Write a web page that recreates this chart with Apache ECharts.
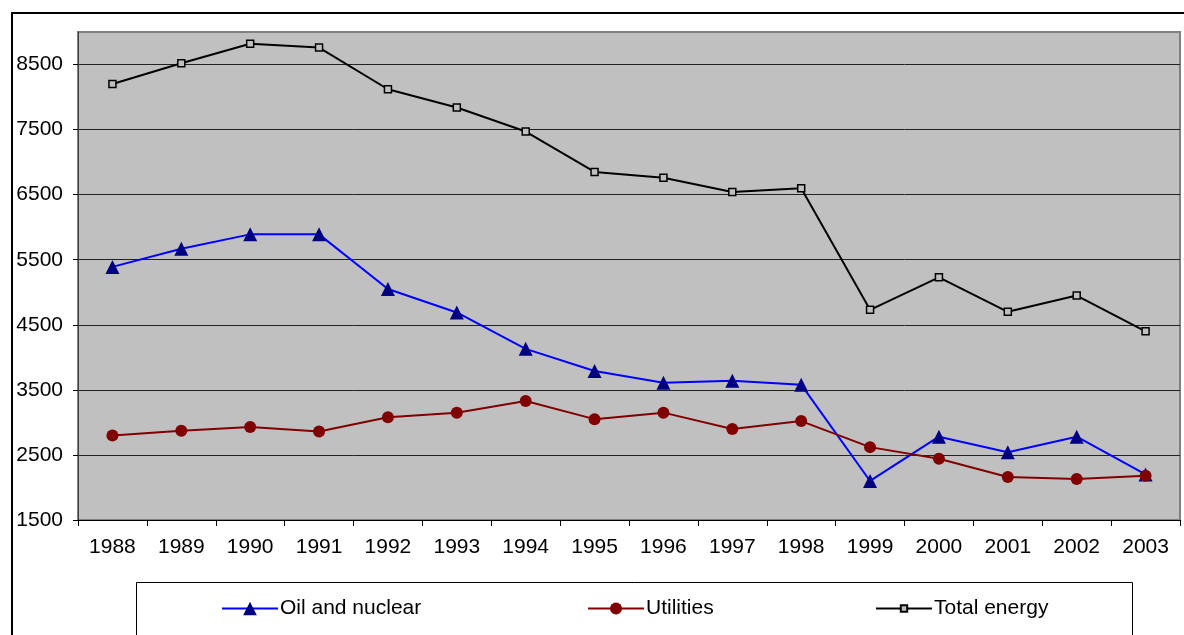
<!DOCTYPE html>
<html>
<head>
<meta charset="utf-8">
<script src="https://cdn.jsdelivr.net/npm/echarts@6/dist/echarts.min.js"></script>
<style>
  html, body { margin: 0; padding: 0; background: #fff; }
  #chart { width: 1184px; height: 635px; }
</style>
</head>
<body>
<div id="chart"></div>
<script>
const years = ['1988', '1989', '1990', '1991', '1992', '1993', '1994', '1995',
  '1996', '1997', '1998', '1999', '2000', '2001', '2002', '2003']
const oilNuclear = [5390, 5670, 5890, 5890, 5050, 4690, 4130, 3790,
  3610, 3640, 3580, 2100, 2780, 2540, 2780, 2200]
const utilities = [2800, 2870, 2930, 2860, 3080, 3150, 3330, 3050,
  3150, 2900, 3020, 2620, 2440, 2160, 2130, 2180]
const totalEnergy = [8200, 8520, 8820, 8760, 8120, 7840, 7470, 6850,
  6760, 6540, 6600, 4730, 5230, 4700, 4950, 4400]
const yTicks = [1500, 2500, 3500, 4500, 5500, 6500, 7500, 8500]

const font = 'Liberation Sans, Arial, sans-serif'

const chart = echarts.init(document.getElementById('chart'))

function legendAt (name, left, size) {
  return {
    data: [name],
    left: left,
    top: 593,
    itemWidth: 56,
    itemHeight: size,
    textStyle: { fontFamily: font, fontSize: 21, color: '#000', padding: [0, 0, 0, -3] },
    selectedMode: false
  }
}

chart.setOption({
  animation: false,
  backgroundColor: '#fff',
  graphic: [
    {
      type: 'rect',
      shape: { x: 12, y: 13, width: 1250, height: 700 },
      style: { fill: 'none', stroke: '#000', lineWidth: 2 },
      silent: true
    },
    {
      type: 'rect',
      shape: { x: 136.5, y: 582.5, width: 996, height: 100 },
      style: { fill: 'none', stroke: '#000', lineWidth: 1 },
      silent: true
    }
  ],
  legend: [
    legendAt('Oil and nuclear', 216, 17),
    legendAt('Utilities', 582, 15),
    legendAt('Total energy', 870, 8)
  ],
  grid: {
    left: 78,
    top: 32,
    right: 4,
    bottom: 115,
    show: true,
    backgroundColor: '#c0c0c0',
    borderColor: '#808080',
    borderWidth: 2
  },
  xAxis: {
    type: 'category',
    data: years,
    boundaryGap: true,
    axisLine: { lineStyle: { color: '#000', width: 1 } },
    axisTick: { show: true, interval: 0, length: 6, lineStyle: { color: '#000' } },
    axisLabel: { interval: 0, margin: 17, color: '#000', fontFamily: font, fontSize: 21 },
    splitLine: { show: false }
  },
  yAxis: {
    type: 'value',
    min: 1500,
    max: 9000,
    axisLine: { show: true, lineStyle: { color: '#404040', width: 1 } },
    axisTick: { show: true, length: 5, customValues: yTicks, lineStyle: { color: '#000' } },
    axisLabel: {
      customValues: yTicks,
      margin: 15,
      color: '#000',
      fontFamily: font,
      fontSize: 21,
      formatter: v => String(v)
    },
    splitLine: { show: true, lineStyle: { color: '#222', width: 1 } }
  },
  series: [
    {
      name: 'Oil and nuclear',
      type: 'line',
      data: oilNuclear,
      symbol: 'triangle',
      symbolSize: 14,
      lineStyle: { color: '#0000ff', width: 2 },
      itemStyle: { color: '#000080' },
      z: 3
    },
    {
      name: 'Utilities',
      type: 'line',
      data: utilities,
      symbol: 'circle',
      symbolSize: 12,
      lineStyle: { color: '#800000', width: 2 },
      itemStyle: { color: '#800000' },
      z: 4
    },
    {
      name: 'Total energy',
      type: 'line',
      data: totalEnergy,
      symbol: 'rect',
      symbolSize: 7,
      lineStyle: { color: '#000', width: 2 },
      itemStyle: { color: '#c0c0c0', borderColor: '#000', borderWidth: 1.5 },
      z: 2
    }
  ]
})
</script>
</body>
</html>
